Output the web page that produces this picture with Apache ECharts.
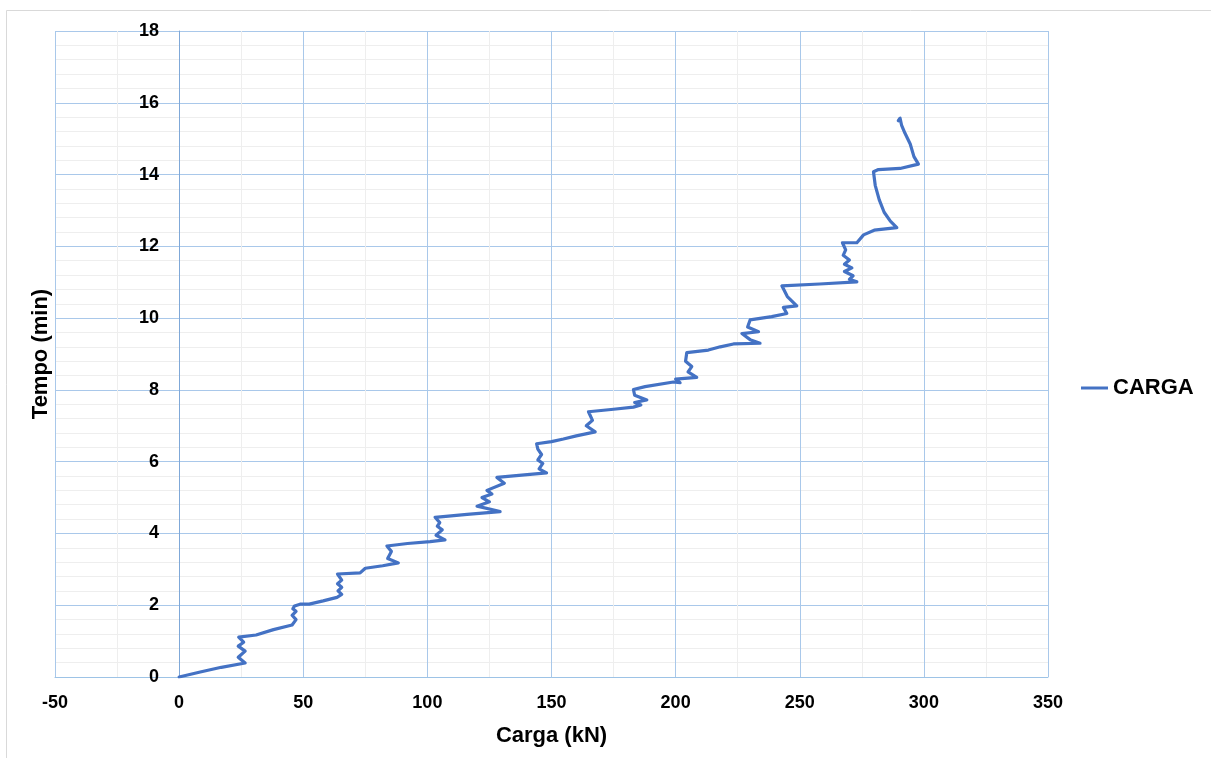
<!DOCTYPE html>
<html>
<head>
<meta charset="utf-8">
<script src="https://cdn.jsdelivr.net/npm/echarts@6/dist/echarts.min.js"></script>
<style>
  html, body { margin: 0; padding: 0; background: #ffffff; }
  #chart { width: 1211px; height: 758px; }
</style>
</head>
<body>
<div id="chart"></div>
<script>
// Carga aplicada (kN) ao longo do ensaio
const cargaKN = [
  0, 8.5, 17, 26.6, 23.8, 26.6, 23.8, 26, 24, 31, 38, 45.5,
  47.1, 45.5, 47.1, 45.8, 46.5, 48.7, 52.4, 58, 63.6,
  65.5, 64, 65.5, 63.8, 65.5, 63.8, 72.9, 75, 82, 88.3,
  84, 85.5, 83.7, 92, 101.1, 107.1,
  103.5, 106, 104, 105, 103.1, 116, 129.3,
  120, 125, 122, 126, 124, 131, 128, 148,
  145, 146.5, 144.5, 146, 144.5, 144, 150, 154.8, 160, 167.6,
  164, 166.5, 164.9, 175, 183, 186, 183.5, 188.4, 183.5, 183,
  187.7, 199.1, 201.8, 200, 208.5,
  205, 206.5, 204, 204.5, 213.2, 218, 223.3, 234,
  230, 226.7, 233.4, 229, 230, 238.7, 244.8, 243.4, 248.8,
  245, 242.8, 258, 273,
  270, 271.5, 268, 271, 268, 270, 267.5, 268.5, 267.2, 273, 275.7, 280, 289.1,
  286.5, 284, 282, 280.4, 279.7, 281.7, 290.4, 297.8,
  296, 294.5, 292.4, 291, 290.4, 289.7
];

// Tempo decorrido (min) correspondente a cada leitura
const tempoMin = [
  0, 0.14, 0.27, 0.39, 0.55, 0.72, 0.86, 0.97, 1.11, 1.17, 1.32, 1.45,
  1.6, 1.72, 1.83, 1.9, 1.98, 2.03, 2.03, 2.12, 2.22,
  2.3, 2.4, 2.5, 2.6, 2.7, 2.87, 2.9, 3.03, 3.1, 3.18,
  3.3, 3.5, 3.65, 3.72, 3.77, 3.82,
  3.95, 4.1, 4.2, 4.3, 4.45, 4.53, 4.61,
  4.76, 4.88, 5.0, 5.1, 5.2, 5.4, 5.56, 5.69,
  5.8, 5.95, 6.05, 6.2, 6.35, 6.5, 6.56, 6.63, 6.72, 6.83,
  7.0, 7.15, 7.39, 7.46, 7.52, 7.58, 7.65, 7.72, 7.85, 8.01,
  8.09, 8.22, 8.2, 8.3, 8.35,
  8.5, 8.65, 8.8, 9.04, 9.11, 9.2, 9.28, 9.3,
  9.4, 9.57, 9.62, 9.75, 9.95, 10.04, 10.13, 10.3, 10.34,
  10.6, 10.9, 10.95, 11.01,
  11.08, 11.18, 11.3, 11.4, 11.5, 11.62, 11.75, 11.9, 12.1, 12.1, 12.32, 12.45, 12.52,
  12.7, 12.95, 13.3, 13.7, 14.08, 14.14, 14.17, 14.29,
  14.5, 14.85, 15.15, 15.38, 15.57, 15.5
];

const seriesName = 'CARGA';
const xTitle = 'Carga (kN)';
const yTitle = 'Tempo (min)';

const X_MIN = -50, X_MAX = 350;

const points = cargaKN.map((v, i) => [v, tempoMin[i]]);

const FONT = 'Liberation Sans, Arial, sans-serif';
const tickFont = { color: '#000000', fontFamily: FONT, fontWeight: 'bold', fontSize: 18 };
const titleFont = { color: '#000000', fontFamily: FONT, fontWeight: 'bold', fontSize: 22 };

// plot rectangle
const GRID = { left: 55, right: 163, top: 31, bottom: 81 };
const plotWidth = 1211 - GRID.left - GRID.right;
// the vertical axis sits on carga = 0
const yAxisShift = plotWidth * (0 - X_MIN) / (X_MAX - X_MIN);

const chart = echarts.init(document.getElementById('chart'), null, { renderer: 'canvas' });

chart.setOption({
  backgroundColor: '#ffffff',
  animation: false,
  graphic: [{
    type: 'rect',
    shape: { x: 6.5, y: 10.5, width: 1300, height: 800 },
    style: { fill: 'none', stroke: '#d9d9d9', lineWidth: 1 },
    silent: true
  }],
  grid: Object.assign({ containLabel: false, outerBoundsMode: 'none' }, GRID),
  legend: {
    data: [{ name: seriesName, icon: 'rect' }],
    left: 1076,
    top: 372,
    itemWidth: 27,
    itemHeight: 3,
    itemGap: 0,
    textStyle: titleFont
  },
  xAxis: {
    type: 'value',
    min: X_MIN,
    max: X_MAX,
    interval: 50,
    name: xTitle,
    nameLocation: 'middle',
    nameGap: 48,
    nameTextStyle: titleFont,
    axisLine: { show: true, onZero: false, lineStyle: { color: '#9dc3e6', width: 1 } },
    axisTick: { show: false },
    axisLabel: Object.assign({ margin: 17 }, tickFont),
    splitLine: { show: true, lineStyle: { color: '#a9c8ea', width: 1 } },
    minorTick: { show: false, splitNumber: 2 },
    minorSplitLine: { show: true, lineStyle: { color: '#eeeeee', width: 1 } }
  },
  yAxis: {
    type: 'value',
    min: 0,
    max: 18,
    interval: 2,
    offset: -yAxisShift,
    name: yTitle,
    nameLocation: 'middle',
    nameGap: 127,
    nameTextStyle: titleFont,
    axisLine: { show: true, onZero: false, lineStyle: { color: '#7fa8d8', width: 1 } },
    axisTick: { show: false },
    axisLabel: Object.assign({ margin: 20 }, tickFont),
    splitLine: { show: true, lineStyle: { color: '#a9c8ea', width: 1 } },
    minorTick: { show: false, splitNumber: 5 },
    minorSplitLine: { show: true, lineStyle: { color: '#eeeeee', width: 1 } }
  },
  series: [{
    name: seriesName,
    type: 'line',
    data: points,
    symbol: 'none',
    smooth: false,
    lineStyle: { color: '#4472c4', width: 3.2, join: 'round', cap: 'round' },
    itemStyle: { color: '#4472c4' }
  }]
});
</script>
</body>
</html>
